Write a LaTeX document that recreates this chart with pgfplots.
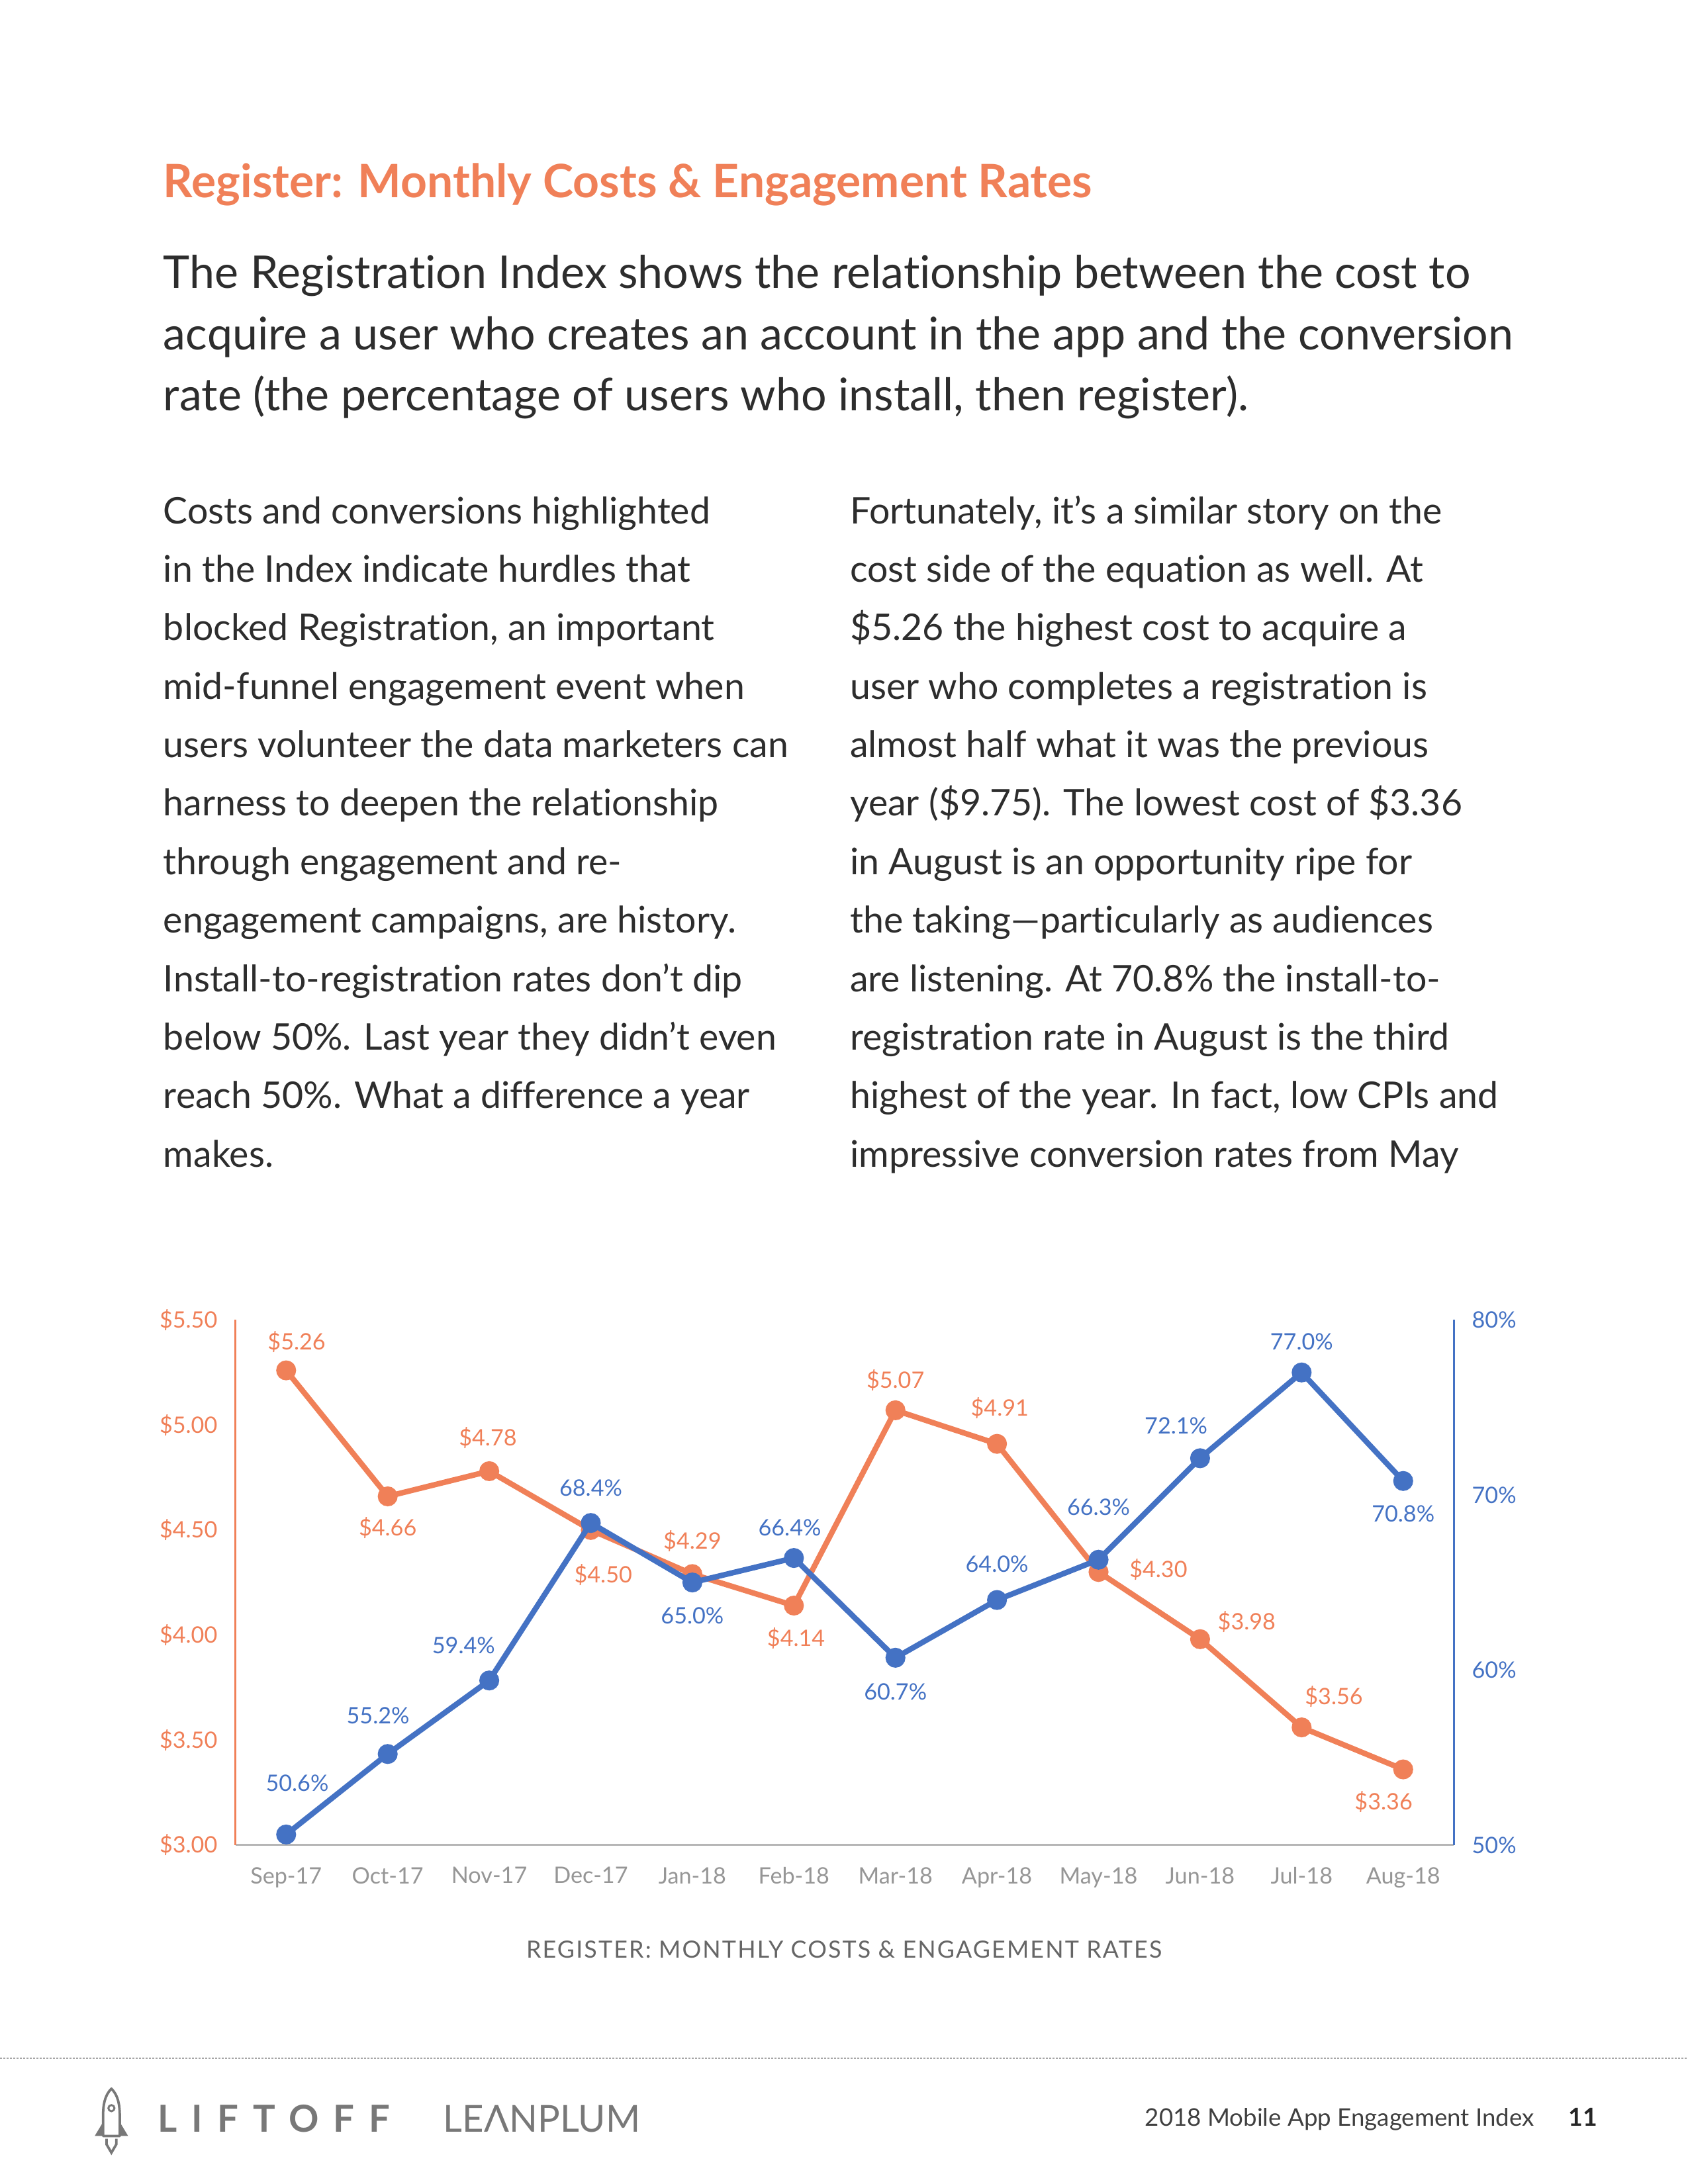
\documentclass[border=0pt]{standalone}
\usepackage{fontspec}
\setmainfont{Lato}[Ligatures=NoCommon]
\usepackage{pgfplots}
\pgfplotsset{compat=1.18}
\usepackage{pgfplotstable}
\definecolor{regorange}{RGB}{240,128,88}
\definecolor{regblue}{RGB}{68,114,196}
\definecolor{tickgray}{RGB}{150,150,150}
\definecolor{bodytext}{RGB}{45,45,45}
\definecolor{logogray}{RGB}{120,120,120}

% month, cost ($), label offset (pt)
\pgfplotstableread{
x  y     dx    dy
0  5.26  3.8   10.4
1  4.66  0    -11.3
2  4.78 -0.5   12.1
3  4.50  4.5  -16.2
4  4.29  0     11.9
5  4.14  0.8  -11.9
6  5.07  0     10.9
7  4.91  1     13.1
8  4.30  21.7  1.0
9  3.98  16.9  6.2
10 3.56  11.7  11.1
11 3.36 -7.1  -11.7
}\costdata

% month, install-to-registration rate (%), label offset (pt)
\pgfplotstableread{
x  y     dx    dy
0  50.6  4.0   18.7
1  55.2 -3.5   13.9
2  59.4 -9.3   12.6
3  68.4  0     12.6
4  65.0  0    -12.1
5  66.4 -1.5   11.1
6  60.7  0    -12.4
7  64.0  0     13.1
8  66.3  0     19.1
9  72.1 -8.7   11.9
10 77.0  0     11.1
11 70.8  0    -11.8
}\ratedata

\newcommand{\chartfont}{\fontsize{8.2}{10}\selectfont}

\begin{document}
\begin{tikzpicture}
\useasboundingbox (0,0) rectangle (612pt,-792pt);

\begin{scope}[x=0.50495pt, y=-0.50495pt]
% title and intro
\node[anchor=base west, inner sep=0, text=regorange, font=\fontsize{16.7}{19}\selectfont\bfseries]
  at (117,142) {Register: Monthly Costs \& Engagement Rates};
\begin{scope}[every node/.style={anchor=base west, inner sep=0, text=bodytext, font=\fontsize{16.35}{19}\selectfont}]
\node at (117,207) {The Registration Index shows the relationship between the cost to};
\node at (117,251) {acquire a user who creates an account in the app and the conversion};
\node at (117,295) {rate (the percentage of users who install, then register).};
\end{scope}

% two columns of body text
\begin{scope}[every node/.style={anchor=base west, inner sep=0, text=bodytext, font=\fontsize{13.3}{15}\selectfont}]
\node at (117,376) {Costs and conversions highlighted};
\node at (117,418) {in the Index indicate hurdles that};
\node at (117,460) {blocked Registration, an important};
\node at (117,502) {mid-funnel engagement event when};
\node at (117,544) {users volunteer the data marketers can};
\node at (117,586) {harness to deepen the relationship};
\node at (117,628) {through engagement and re-};
\node at (117,670) {engagement campaigns, are history.};
\node at (117,712) {Install-to-registration rates don’t dip};
\node at (117,754) {below 50\%. Last year they didn’t even};
\node at (117,796) {reach 50\%. What a difference a year};
\node at (117,838) {makes.};

\node at (610,376) {Fortunately, it’s a similar story on the};
\node at (610,418) {cost side of the equation as well. At};
\node at (610,460) {\$5.26 the highest cost to acquire a};
\node at (610,502) {user who completes a registration is};
\node at (610,544) {almost half what it was the previous};
\node at (610,586) {year (\$9.75). The lowest cost of \$3.36};
\node at (610,628) {in August is an opportunity ripe for};
\node at (610,670) {the taking—particularly as audiences};
\node at (610,712) {are listening. At 70.8\% the install-to-};
\node at (610,754) {registration rate in August is the third};
\node at (610,796) {highest of the year. In fact, low CPIs and};
\node at (610,838) {impressive conversion rates from May};
\end{scope}

% caption
\node[anchor=base, inner sep=0, text=black!60, font=\fontsize{8.6}{10}\selectfont\addfontfeature{LetterSpace=6}]
  at (606,1406) {REGISTER: MONTHLY COSTS \& ENGAGEMENT RATES};

% footer
\draw[black!35, line width=0.5pt, dash pattern=on 0.6pt off 0.6pt] (0,1478) -- (1212,1478);
\draw[logogray, line width=0.9pt, line join=round]
  (80,1500) .. controls (75,1505) and (74,1512) .. (74,1520) -- (74,1534)
  -- (86,1534) -- (86,1520) .. controls (86,1512) and (85,1505) .. (80,1500) -- cycle;
\draw[logogray, line width=0.7pt] (80,1514) circle (2.2);
\fill[logogray] (74,1524) -- (68,1534) -- (74,1534) -- cycle;
\fill[logogray] (86,1524) -- (92,1534) -- (86,1534) -- cycle;
\draw[logogray, line width=0.9pt] (76.5,1536) -- (76.5,1540) -- (80,1546) -- (83.5,1540) -- (83.5,1536);
\node[anchor=base west, inner sep=0, text=logogray, font=\fontsize{13.5}{16}\selectfont\bfseries\addfontfeature{LetterSpace=39}]
  at (113,1531) {LIFTOFF};
\node[anchor=base west, inner sep=0, text=logogray, font=\fontsize{13.5}{16}\selectfont]
  at (318,1531) {LEΛNPLUM};
\node[anchor=base east, inner sep=0, text=black!75, font=\fontsize{8.8}{10}\selectfont]
  at (1102,1527) {2018 Mobile App Engagement Index};
\node[anchor=base west, inner sep=0, text=black!85, font=\fontsize{9}{10}\selectfont\bfseries]
  at (1126,1527) {11};
\end{scope}

% cost axis (left)
\begin{axis}[
  at={(85.34pt,-669.06pt)}, anchor=south west,
  scale only axis, width=441.8pt, height=190.4pt,
  xmin=-0.5, xmax=11.5, ymin=3, ymax=5.5,
  axis x line*=bottom, axis y line*=left,
  x axis line style={tickgray!70, line width=0.8pt},
  y axis line style={regorange, line width=0.6pt},
  xtick={0,...,11},
  xticklabels={Sep-17,Oct-17,Nov-17,Dec-17,Jan-18,Feb-18,Mar-18,Apr-18,May-18,Jun-18,Jul-18,Aug-18},
  ytick={3,3.5,4,4.5,5,5.5},
  yticklabel={\$\pgfmathprintnumber[fixed,fixed zerofill,precision=2]{\tick}},
  major tick length=0,
  /pgf/number format/assume math mode=true,
  tick label style={font=\chartfont},
  x tick label style={text=tickgray, yshift=-4.5pt},
  y tick label style={text=regorange, xshift=-3pt},
  clip=false,
]
\addplot[regorange, line width=2pt, mark=*, mark size=2.6pt,
  nodes near coords={\$\pgfmathprintnumber[fixed,fixed zerofill,precision=2]{\pgfplotspointmeta}},
  visualization depends on={\thisrow{dx} \as \dx},
  visualization depends on={\thisrow{dy} \as \dy},
  every node near coord/.append style={anchor=center, xshift=\dx pt, yshift=\dy pt, font=\chartfont, text=regorange},
] table[x=x, y=y] {\costdata};
\end{axis}

% rate axis (right)
\begin{axis}[
  at={(85.34pt,-669.06pt)}, anchor=south west,
  scale only axis, width=441.8pt, height=190.4pt,
  xmin=-0.5, xmax=11.5, ymin=50, ymax=80,
  axis x line=none, axis y line*=right,
  y axis line style={regblue, line width=0.6pt},
  ytick={50,60,70,80},
  yticklabel={\pgfmathprintnumber{\tick}\%},
  major tick length=0,
  /pgf/number format/assume math mode=true,
  tick label style={font=\chartfont},
  y tick label style={text=regblue, xshift=3pt},
  clip=false,
]
\addplot[regblue, line width=2pt, mark=*, mark size=2.6pt,
  nodes near coords={\pgfmathprintnumber[fixed,fixed zerofill,precision=1]{\pgfplotspointmeta}\%},
  visualization depends on={\thisrow{dx} \as \dx},
  visualization depends on={\thisrow{dy} \as \dy},
  every node near coord/.append style={anchor=center, xshift=\dx pt, yshift=\dy pt, font=\chartfont, text=regblue},
] table[x=x, y=y] {\ratedata};
\end{axis}
\end{tikzpicture}
\end{document}
